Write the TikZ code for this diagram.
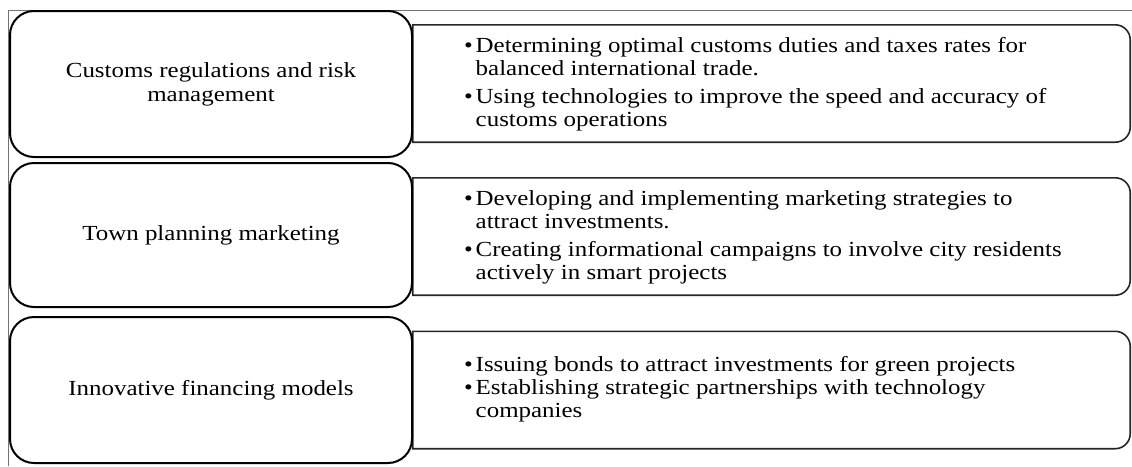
\documentclass[tikz,border=0pt]{standalone}
\usepackage{fontspec}
\setmainfont{Liberation Serif}[FakeStretch=1.16]
\begin{document}
\begin{tikzpicture}[x=1pt,y=-1pt,
  lbox/.style={draw=black,line width=2pt,rounded corners=24pt,fill=white,
    minimum width=402pt,inner sep=0pt,align=center,
    font=\fontsize{21.5}{24}\selectfont},
  rbox/.style={minimum width=717pt,minimum height=117pt,inner sep=0pt},
  rline/.style={draw=black!85,line width=1.6pt},
  rtext/.style={anchor=west,inner sep=0pt,align=left,
    font=\fontsize{21.5}{23}\selectfont},
  frameline/.style={draw=black!55,line width=0.9pt}]
\useasboundingbox (0,0) rectangle (1132,466);
% outer frame
\coordinate (ftl) at (8,10);
\coordinate (ftr) at (1132,10);
\coordinate (fbl) at (8,466);
\draw[frameline] (fbl) -- (ftl) -- (ftr);
% right boxes
\node[rbox] (r1) at (771.5,83.5) {};
\node[rbox] (r2) at (771.5,236.5) {};
\node[rbox] (r3) at (771.5,390) {};
\foreach \r in {r1,r2,r3}{
  \draw[rline] (\r.north west) [rounded corners=15pt] -- (\r.north east)
    -- (\r.south east) [sharp corners] -- (\r.south west) -- cycle;
}
% left boxes
\node[lbox,minimum height=146pt] (l1) at (211,84) {Customs regulations and risk\\management};
\node[lbox,minimum height=144pt] (l2) at (211,235) {Town planning marketing};
\node[lbox,minimum height=146pt] (l3) at (211,390) {Innovative financing models};
% right texts
\node[rtext] (t1) at ([xshift=51pt,yshift=-1pt]r1.west) {%
\begin{tabular}{@{}l@{\hspace{3pt}}l@{}}
\textbullet & Determining optimal customs duties and taxes rates for\\
 & balanced international trade.\\[5pt]
\textbullet & Using technologies to improve the speed and accuracy of\\
 & customs operations
\end{tabular}};
\node[rtext] (t2) at ([xshift=51pt,yshift=-1pt]r2.west) {%
\begin{tabular}{@{}l@{\hspace{3pt}}l@{}}
\textbullet & Developing and implementing marketing strategies to\\
 & attract investments.\\[5pt]
\textbullet & Creating informational campaigns to involve city residents\\
 & actively in smart projects
\end{tabular}};
\node[rtext] (t3) at ([xshift=51pt,yshift=0pt]r3.west) {%
\begin{tabular}{@{}l@{\hspace{3pt}}l@{}}
\textbullet & Issuing bonds to attract investments for green projects\\
\textbullet & Establishing strategic partnerships with technology\\
 & companies
\end{tabular}};
\end{tikzpicture}
\end{document}
